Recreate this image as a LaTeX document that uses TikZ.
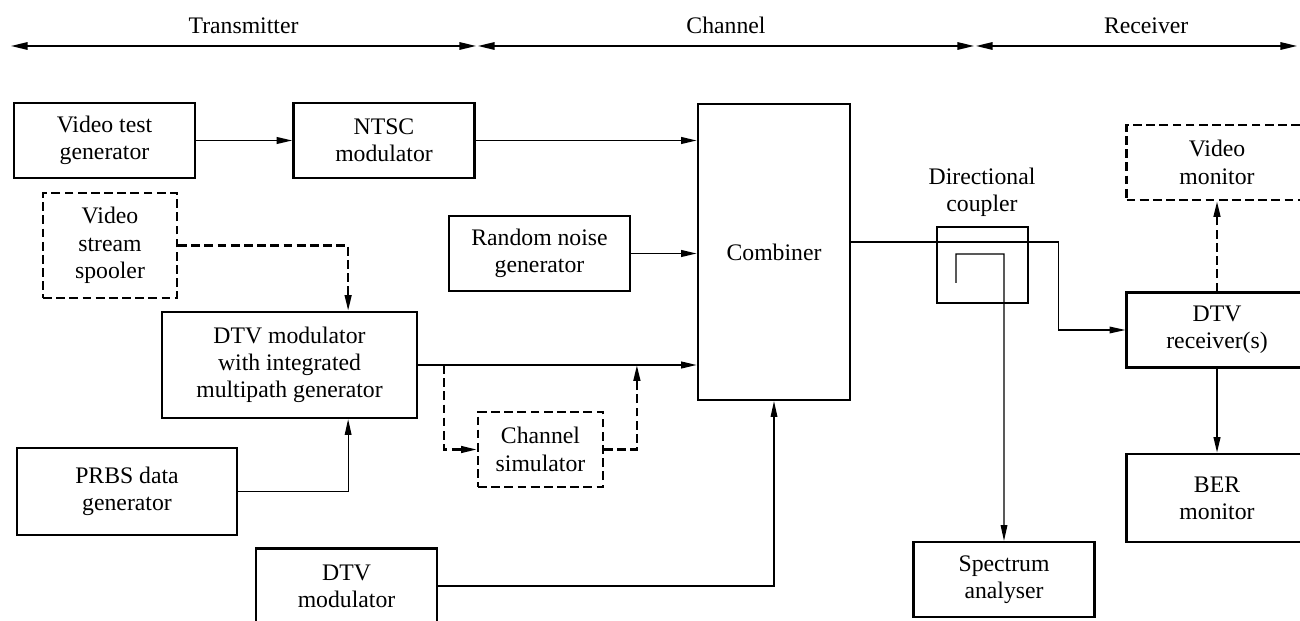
\documentclass[tikz,border=0pt]{standalone}
\usepackage{fontspec}
\setmainfont{Liberation Serif}
\usetikzlibrary{arrows.meta}

\tikzset{blocknode/.style={rectangle, draw, line width=1.3pt, minimum width=3.62cm, minimum height=1.5cm, align=center, inner sep=1pt}}
\tikzset{optnode/.style={blocknode, dash pattern=on 5pt off 2.5pt}}
\tikzset{sigline/.style={-{Triangle[length=9pt,width=3.8pt]}, line width=1.1pt}}
\tikzset{thinline/.style={-{Triangle[length=9pt,width=3.8pt]}, line width=0.65pt}}
\tikzset{optline/.style={sigline, line width=1.3pt, dash pattern=on 5pt off 2.5pt}}
\tikzset{spanline/.style={{Triangle[length=10pt,width=4pt]}-{Triangle[length=10pt,width=4pt]}, line width=1.6pt}}

\begin{document}
\begin{tikzpicture}[x=0.02cm, y=-0.02cm, font=\fontsize{13.5}{15.5}\selectfont]
		\clip (0,0) rectangle (1300,621);

		%sections
		\coordinate (t0) at (10,46);
		\coordinate (t1) at (477,46);
		\coordinate (t2) at (975,46);
		\coordinate (t3) at (1298,46);
		\draw[spanline] (t0) -- node[above=3pt] {Transmitter} (t1);
		\draw[spanline] (t1) -- node[above=3pt] {Channel} (t2);
		\draw[spanline] (t2) -- node[above=3pt, pos=0.53] {Receiver} (t3);

		%transmitter
		\node[blocknode] (vtg) at (104.5,140.5) {Video test\\generator};
		\node[blocknode] (ntsc) at (384,140.5) {NTSC\\modulator};
		\node[optnode, minimum width=2.68cm, minimum height=2.1cm] (vss) at (110,245.5) {Video\\stream\\spooler};
		\node[blocknode, minimum width=5.1cm, minimum height=2.12cm] (dtvm) at (289.5,365) {DTV modulator\\with integrated\\multipath generator};
		\node[blocknode, minimum width=4.4cm, minimum height=1.74cm] (prbs) at (127,491.5) {PRBS data\\generator};
		\node[blocknode] (dtv2) at (346.5,586) {DTV\\modulator};

		%channel
		\node[blocknode] (rng) at (539.5,253.5) {Random noise\\generator};
		\node[optnode, minimum width=2.5cm] (chsim) at (540.5,449.5) {Channel\\simulator};
		\node[blocknode, minimum width=3.04cm, minimum height=5.92cm] (comb) at (774,252) {Combiner};
		\node[blocknode, minimum width=1.82cm, minimum height=1.52cm] (dc) at (982.5,265) {};
		\node[align=center] (dclabel) at (982,192) {Directional\\coupler};
		\node[blocknode] (spec) at (1004,579.5) {Spectrum\\analyser};

		%receiver
		\node[optnode] (vmon) at (1217,162.5) {Video\\monitor};
		\node[blocknode] (dtvrx) at (1217,330) {DTV\\receiver(s)};
		\node[blocknode, minimum height=1.76cm] (ber) at (1217,498) {BER\\monitor};

		%signal paths
		\coordinate (jn) at (dtvm.east -| comb.west);
		\draw[sigline] (vtg) -- (ntsc);
		\draw[sigline] (ntsc.east) -- (ntsc.east -| comb.west);
		\draw[sigline] (rng.east) -- (rng.east -| comb.west);
		\draw[sigline] (dtvm.east) -- (jn);
		\draw[optline] (vss.east) -| ([xshift=-1.4cm]dtvm.north east);
		\draw[thinline] (prbs.east) -| ([xshift=-1.4cm]dtvm.south east);
		\draw[optline] ([xshift=0.52cm]dtvm.east) |- (chsim.west);
		\draw[optline] (chsim.east) -| ([xshift=-1.2cm]jn);
		\draw[thinline] (dtv2.east) -| (comb.south);

		\draw[thinline] ([yshift=0.2cm]comb.east) -| ([xshift=0.58cm]dc.east) |- (dtvrx.west);
		\draw[thinline] ([xshift=-0.53cm,yshift=-0.36cm]dc.center) |- ([xshift=0.43cm,yshift=0.22cm]dc.center) -- (spec.north);
		\draw[optline] (dtvrx.north) -- (vmon.south);
		\draw[sigline] (dtvrx.south) -- (ber.north);
\end{tikzpicture}
\end{document}
